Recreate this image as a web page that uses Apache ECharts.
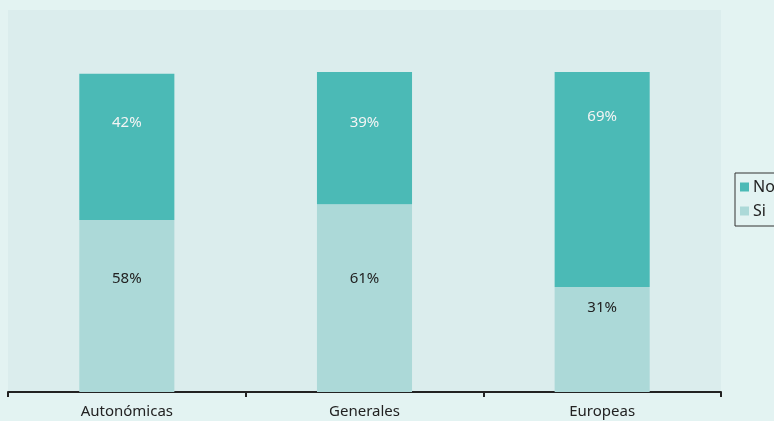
<!DOCTYPE html>
<html>
<head>
<meta charset="utf-8">
<script src="https://cdn.jsdelivr.net/npm/echarts@6/dist/echarts.min.js"></script>
<style>
html,body{margin:0;padding:0;background:#e3f3f2;}
#c{width:774px;height:421px;}
</style>
</head>
<body>
<div id="c"></div>
<script>
var categories = ['Autonómicas', 'Generales', 'Europeas'];
var siValues = [54, 59, 33];
var noValues = [46, 41.5, 67.5];
var siLabels = ['58%', '61%', '31%'];
var noLabels = ['42%', '39%', '69%'];

// label offsets from segment top (styling only)
var siLabelDist = [51, 67, 13];
var noLabelDist = [42, 43, 37];

var FONT = 'Noto Sans';
var chart = echarts.init(document.getElementById('c'));
function build(vals, labels, dists) {
  return vals.map(function (v, i) {
    return {
      value: v,
      label: { position: 'insideTop', distance: dists[i], formatter: labels[i] }
    };
  });
}
chart.setOption({
  backgroundColor: '#e3f3f2',
  animation: false,
  grid: { left: 8, right: 53, top: 10, bottom: 29, show: true, backgroundColor: '#dbeded', borderWidth: 0 },
  legend: {
    orient: 'vertical',
    left: 735, top: 173,
    data: ['No', 'Si'],
    itemWidth: 9, itemHeight: 9, itemGap: 8,
    borderColor: '#333', borderWidth: 1,
    padding: [6, 6, 7, 5],
    textStyle: { fontFamily: FONT, fontSize: 16, color: '#222', padding: [0, 0, 0, -1] },
    icon: 'rect'
  },
  xAxis: {
    type: 'category',
    data: categories,
    boundaryGap: true,
    axisLine: { lineStyle: { color: '#222', width: 2 } },
    axisTick: { show: true, length: 5, lineStyle: { color: '#222', width: 2 } },
    axisLabel: { fontFamily: FONT, fontSize: 15, color: '#222', margin: 12 }
  },
  yAxis: { type: 'value', min: 0, max: 120, show: false, splitLine: { show: false } },
  series: [
    {
      name: 'Si', type: 'bar', stack: 't', barWidth: '40%',
      itemStyle: { color: '#acd9d8' },
      label: { show: true, color: '#222', fontFamily: FONT, fontSize: 15 },
      data: build(siValues, siLabels, siLabelDist)
    },
    {
      name: 'No', type: 'bar', stack: 't', barWidth: '40%',
      itemStyle: { color: '#4bbab6' },
      label: { show: true, color: '#f4f4f4', fontFamily: FONT, fontSize: 15 },
      data: build(noValues, noLabels, noLabelDist)
    }
  ]
});
</script>
</body>
</html>
